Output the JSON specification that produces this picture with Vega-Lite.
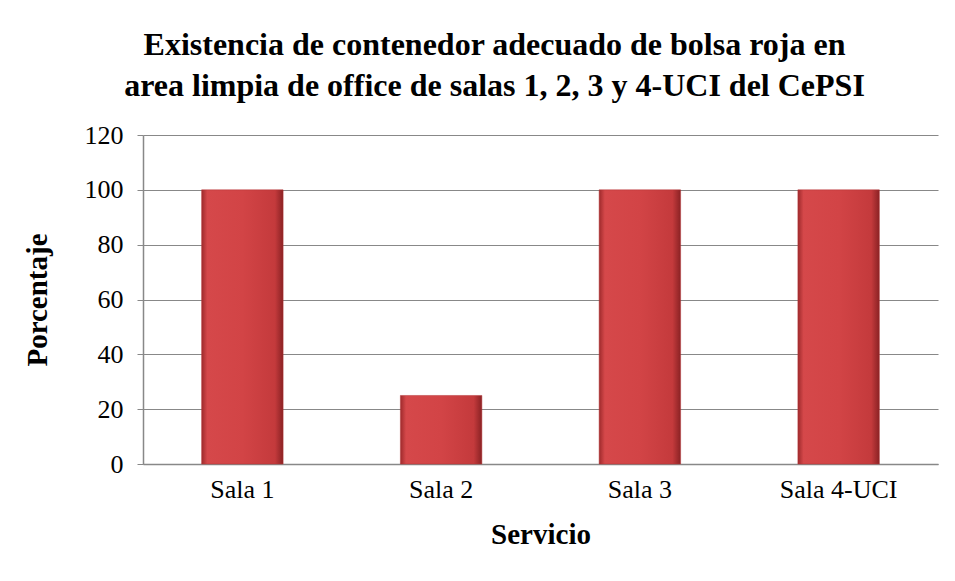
{
  "$schema": "https://vega.github.io/schema/vega-lite/v6.json",
  "width": 795,
  "height": 329,
  "autosize": {"type": "none"},
  "padding": {"left": 143, "top": 135, "right": 17, "bottom": 117},
  "background": "white",
  "title": {
    "text": ["Existencia de contenedor adecuado de bolsa roja en", "area limpia de office de salas 1, 2, 3 y 4-UCI del CePSI"],
    "font": "Liberation Serif",
    "fontSize": 32,
    "fontWeight": "bold",
    "color": "black",
    "lineHeight": 41,
    "anchor": "middle",
    "dx": -46,
    "offset": 19
  },
  "data": {
    "values": [
      {"Servicio": "Sala 1", "Porcentaje": 100},
      {"Servicio": "Sala 2", "Porcentaje": 25},
      {"Servicio": "Sala 3", "Porcentaje": 100},
      {"Servicio": "Sala 4-UCI", "Porcentaje": 100}
    ]
  },
  "config": {
    "view": {"stroke": null},
    "axis": {
      "labelFont": "Liberation Serif",
      "labelFontSize": 26,
      "labelColor": "black",
      "titleFont": "Liberation Serif",
      "titleFontSize": 29,
      "titleFontWeight": "bold",
      "titleColor": "black"
    }
  },
  "mark": {
    "type": "bar",
    "stroke": "#b53436",
    "strokeWidth": 0.5,
    "fill": {
      "x1": 0, "y1": 0, "x2": 1, "y2": 0,
      "gradient": "linear",
      "stops": [
        {"offset": 0, "color": "#9e2a2c"},
        {"offset": 0.07, "color": "#d5484a"},
        {"offset": 0.5, "color": "#d24446"},
        {"offset": 0.9, "color": "#c43a3c"},
        {"offset": 1, "color": "#8a2224"}
      ]
    }
  },
  "encoding": {
    "x": {
      "field": "Servicio",
      "type": "nominal",
      "sort": null,
      "scale": {"paddingInner": 0.59, "paddingOuter": 0.295},
      "axis": {
        "title": "Servicio",
        "labelAngle": 0,
        "labelPadding": 12,
        "titlePadding": 18,
        "ticks": false,
        "domainColor": "#888888",
        "domainWidth": 1.5
      }
    },
    "y": {
      "field": "Porcentaje",
      "type": "quantitative",
      "scale": {"domain": [0, 120]},
      "axis": {
        "title": "Porcentaje",
        "values": [0, 20, 40, 60, 80, 100, 120],
        "gridColor": "#888888",
        "gridWidth": 1.2,
        "domainColor": "#888888",
        "domainWidth": 1.5,
        "tickColor": "#888888",
        "tickSize": 6,
        "labelPadding": 14,
        "titlePadding": 32
      }
    }
  }
}
